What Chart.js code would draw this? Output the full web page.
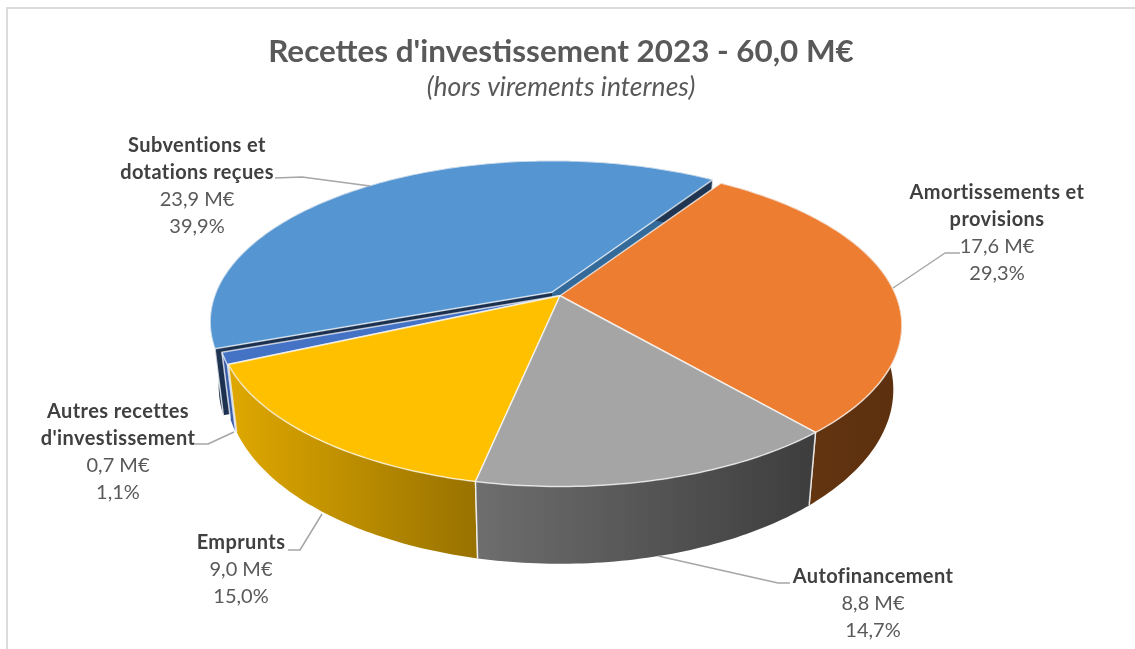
<!DOCTYPE html>
<html lang="fr">
<head>
<meta charset="utf-8">
<title>Recettes d'investissement 2023</title>
<script src="https://cdn.jsdelivr.net/npm/chart.js@4/dist/chart.umd.min.js"></script>
<style>
    html, body { margin: 0; padding: 0; background: #fff; }
    #wrap { position: relative; width: 1135px; height: 649px; overflow: hidden; }
    #frame { position: absolute; left: 6px; top: 7px; right: -4px; bottom: -4px; border: 2px solid #dcdcdc; }
    canvas { position: absolute; left: 0; top: 0; }
</style>
</head>
<body>
<div id="wrap">
    <div id="frame"></div>
    <canvas id="chart" width="1135" height="649"></canvas>
</div>
<script>
// Données
const categories = [['Amortissements et', 'provisions'], ['Autofinancement'], ['Emprunts'], ['Autres recettes', "d'investissement"], ['Subventions et', 'dotations reçues']];
const values = [17.6, 8.8, 9.0, 0.7, 23.9];
const amountLabels = ['17,6 M€', '8,8 M€', '9,0 M€', '0,7 M€', '23,9 M€'];
const percentLabels = ['29,3%', '14,7%', '15,0%', '1,1%', '39,9%'];

// Style de chaque part, même ordre que les données
const topColors = ['#ED7D31', '#A5A5A5', '#FFC000', '#4472C4', '#5596D2'];
const wallColors = [['#6a3a12', '#5c2f0e'], ['#6e6e6e', '#3d3d3d'], ['#dfa800', '#987200'], ['#3a5ea8', '#3a5ea8'], ['#1f3552', '#1f3552']];
const faceColors = [null, null, null, '#2f4f94', ['#1c3050', '#336a99']];
const explode = [[0, 0], [0, 0], [0, 0], [-1, 0], [-8, -3.5]];
const drawOrder = [4, 3, 0, 2, 1];

// Etiquettes : centre du texte, lignes et trait de rappel
const labelX = [997, 873, 241, 118, 197];
const labelY = [193, 577, 543, 412, 146];
const leaderLines = [
    [[960, 253], [945, 253], [893, 288]],
    [[790, 583], [778, 583], [658, 556]],
    [[288, 550], [300, 550], [322, 514]],
    [[195, 444], [208, 444], [234, 432]],
    [[275, 178], [302, 177], [370, 186]]
];

// Perspective du disque
const RX = 1.757;
const RY = 0.8143;
const PERSP = -0.1837;
const CENTER_SHIFT = -1;
const FLOOR_SCALE_X = 0.975;
const FLOOR_SCALE_Y = 1.08;
const FLOOR_DROP = 62;

function project(arc, angle, r, level, shift) {
    const x = r * Math.cos(angle);
    const y = r * Math.sin(angle);
    const w = 1 + PERSP * y;
    let px = RX * arc.outerRadius * x / w;
    let py = RY * arc.outerRadius * y / w;
    if (level === 1) {
        px *= FLOOR_SCALE_X;
        py = py * FLOOR_SCALE_Y + FLOOR_DROP;
    }
    return [arc.x + CENTER_SHIFT + px + shift[0], arc.y + py + shift[1]];
}

function rimPoints(arc, level, shift) {
    const steps = Math.max(4, Math.ceil((arc.endAngle - arc.startAngle) * 60));
    const pts = [];
    for (let i = 0; i <= steps; i++) {
        const a = arc.startAngle + (arc.endAngle - arc.startAngle) * i / steps;
        pts.push(project(arc, a, 1, level, shift));
    }
    return pts;
}

function tracePath(ctx, pts) {
    ctx.beginPath();
    pts.forEach((p, i) => i ? ctx.lineTo(p[0], p[1]) : ctx.moveTo(p[0], p[1]));
    ctx.closePath();
}

function drawWall(ctx, arc, index) {
    const shift = explode[index];
    const upper = rimPoints(arc, 0, shift);
    const lower = rimPoints(arc, 1, shift);
    const xs = upper.concat(lower).map(p => p[0]);
    const grad = ctx.createLinearGradient(Math.min(...xs), 0, Math.max(...xs), 0);
    grad.addColorStop(0, wallColors[index][0]);
    grad.addColorStop(1, wallColors[index][1]);
    ctx.fillStyle = grad;
    tracePath(ctx, upper.concat(lower.slice().reverse()));
    ctx.fill();

    ctx.strokeStyle = 'rgba(255,255,255,0.75)';
    ctx.lineWidth = 1.5;
    [0, upper.length - 1].forEach(i => {
        ctx.beginPath();
        ctx.moveTo(upper[i][0], upper[i][1]);
        ctx.lineTo(lower[i][0], lower[i][1]);
        ctx.stroke();
    });
}

// Faces radiales, visibles seulement sur les parts détachées
function drawFaces(ctx, arc, index) {
    const colors = faceColors[index];
    if (!colors) return;
    const shift = explode[index];
    [arc.startAngle, arc.endAngle].forEach((a, i) => {
        ctx.fillStyle = Array.isArray(colors) ? colors[i] : colors;
        tracePath(ctx, [
            project(arc, a, 0, 0, shift),
            project(arc, a, 1, 0, shift),
            project(arc, a, 1, 1, shift),
            project(arc, a, 0, 1, shift)
        ]);
        ctx.fill();
    });
}

function drawTop(ctx, arc, index) {
    const shift = explode[index];
    const pts = [project(arc, 0, 0, 0, shift)].concat(rimPoints(arc, 0, shift));
    tracePath(ctx, pts);
    ctx.fillStyle = topColors[index];
    ctx.fill();
    ctx.strokeStyle = 'rgba(255,255,255,0.7)';
    ctx.lineWidth = 1.5;
    ctx.lineJoin = 'round';
    ctx.stroke();
}

function drawLabels(ctx) {
    ctx.textAlign = 'center';
    ctx.textBaseline = 'middle';
    categories.forEach((lines, i) => {
        let y = labelY[i];
        ctx.font = 'bold 20px Lato';
        ctx.letterSpacing = '0.4px';
        ctx.fillStyle = '#404040';
        lines.forEach(line => {
            ctx.fillText(line, labelX[i], y);
            y += 27;
        });
        ctx.font = '20px Lato';
        ctx.letterSpacing = '0px';
        ctx.fillStyle = '#595959';
        ctx.fillText(amountLabels[i], labelX[i], y);
        ctx.fillText(percentLabels[i], labelX[i], y + 27);

        ctx.strokeStyle = '#a6a6a6';
        ctx.lineWidth = 1.5;
        ctx.beginPath();
        leaderLines[i].forEach((p, k) => k ? ctx.lineTo(p[0], p[1]) : ctx.moveTo(p[0], p[1]));
        ctx.stroke();
    });
}

// Remplace le dessin plat des arcs par le disque en perspective
const pie3d = {
    id: 'pie3d',
    beforeDatasetsDraw(chart) {
        const ctx = chart.ctx;
        const arcs = chart.getDatasetMeta(0).data;
        ctx.save();
        drawOrder.forEach(i => {
            drawFaces(ctx, arcs[i], i);
            drawWall(ctx, arcs[i], i);
        });
        drawOrder.forEach(i => drawTop(ctx, arcs[i], i));
        drawLabels(ctx);
        ctx.restore();
        return false;
    }
};

new Chart(document.getElementById('chart'), {
    type: 'pie',
    data: {
        labels: categories,
        datasets: [{ data: values, backgroundColor: topColors }]
    },
    options: {
        responsive: false,
        animation: false,
        rotation: 33.5,
        layout: { padding: { left: 0, right: 13, top: 0, bottom: 161 } },
        plugins: {
            legend: { display: false },
            tooltip: { enabled: false },
            title: {
                display: true,
                text: "Recettes d'investissement 2023 - 60,0 M€",
                color: '#595959',
                font: { family: 'Lato', size: 31.4, weight: 'bold', lineHeight: 1.2 },
                padding: { top: 33, bottom: 0 }
            },
            subtitle: {
                display: true,
                text: '(hors virements internes)',
                color: '#595959',
                font: { family: 'Lato', size: 26.5, style: 'italic', lineHeight: 1.2 },
                padding: { top: 1, bottom: 0 }
            }
        }
    },
    plugins: [pie3d]
});
</script>
</body>
</html>
